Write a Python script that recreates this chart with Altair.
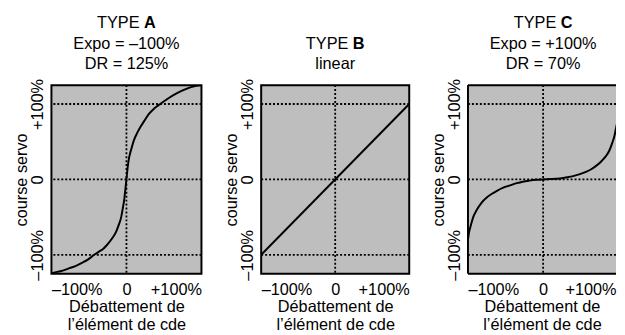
import altair as alt
import pandas as pd

# ---- data ----
A_x = [-100, -94, -85, -77, -68, -60, -51, -43, -37, -32, -26, -19, -14, -10.5, -7, -5, -3, -1.5, 0,
       1.5, 3, 5, 7, 10, 14, 19, 24, 30, 37, 45, 55, 65, 75, 85, 93, 100]
A_y = [-125, -123, -121, -118, -115, -111, -106, -100, -96, -93, -87, -78, -70, -61, -50, -39, -27, -14, 0,
       15, 26, 35, 42, 52, 61, 70, 78, 87, 94, 100, 107, 113, 118, 122, 124, 125]

B_x = [-100, 100]
B_y = [-100, 100]

C_x = [-100, -98.5, -96.5, -93, -88, -82, -75, -68, -62, -53, -44, -35, -27, -18, -9.5, 0,
       10, 22.5, 32, 40, 49, 57, 64, 70, 77, 83.5, 88, 92, 95, 97, 98.5, 100]
C_y = [-80, -70, -62, -50, -40, -31, -24, -19, -15.5, -11, -8, -5, -3, -1.6, -0.6, 0,
       0.4, 1.3, 2.8, 4.4, 7, 10, 13.5, 17.6, 23.5, 30.8, 38, 48.5, 58, 68, 75, 82]

letters = ["A", "B", "C"]
subtitles = [["Expo = –100%", "DR = 125%"], ["linear"], ["Expo = +100%", "DR = 70%"]]
grid_y = [-100, 0, 100]
grid_x = [0]
x_title = ["Débattement de", "l’élément de cde"]
y_title = "course servo"

FS = 16.5
LINE_Y = [-16.5, -37, -58]  # baselines above the plot, bottom line first
H = 191
GRAY = "#bebebe"

ysc = alt.Scale(domain=[-125, 125], nice=False, zero=False)

label_expr = "datum.value == 0 ? '0' : (datum.value > 0 ? '+100%' : '–100%')"

y_axis = alt.Axis(
    values=[-100, 0, 100], labelExpr=label_expr,
    labelAngle=270, labelAlign="center", labelBaseline="bottom",
    grid=False, ticks=False, domain=False, labelPadding=6, labelFontSize=FS,
    title=y_title, titleFontSize=FS, titleFontWeight="normal", titlePadding=0)


def panel(letter, subs, xs, ys, width, xmax, open_right=False):
    xsc = alt.Scale(domain=[-100, xmax], nice=False, zero=False)
    x_axis = alt.Axis(
        values=[-100, 0, xmax], labelExpr=label_expr, labelFlush=True, grid=False,
        ticks=False, domain=False, labelPadding=8, labelFontSize=FS,
        title=x_title, titleFontSize=FS, titleFontWeight="normal", titlePadding=1,
        titleLineHeight=18)
    df = pd.DataFrame({"x": xs, "y": ys})
    line = alt.Chart(df).mark_line(color="black", strokeWidth=2, clip=True,
                                   interpolate="monotone").encode(
        x=alt.X("x:Q", scale=xsc, axis=x_axis),
        y=alt.Y("y:Q", scale=ysc, axis=y_axis),
        order="x:Q",
    )
    hgrid = alt.Chart(pd.DataFrame({"x": grid_y})).mark_rule(
        color="black", strokeDash=[2, 2], strokeWidth=1.8).encode(
        y=alt.Y("x:Q", scale=ysc, axis=y_axis))
    vgrid = alt.Chart(pd.DataFrame({"x": grid_x})).mark_rule(
        color="black", strokeDash=[2, 2], strokeWidth=1.8).encode(
        x=alt.X("x:Q", scale=xsc, axis=x_axis))

    n = len(subs)
    one = alt.Data(values=[{}])
    cx = width * 100 / (xmax + 100)  # pixel position of x = 0
    layers = [hgrid, vgrid, line]
    layers.append(alt.Chart(one).mark_text(
        text="TYPE", align="right", baseline="alphabetic", dx=13.3, fontSize=FS,
        color="black").encode(x=alt.value(cx), y=alt.value(LINE_Y[n])))
    layers.append(alt.Chart(one).mark_text(
        text=letter, align="left", baseline="alphabetic", dx=17.9, fontSize=FS,
        fontWeight="bold", color="black").encode(x=alt.value(cx), y=alt.value(LINE_Y[n])))
    for i, s in enumerate(subs):
        layers.append(alt.Chart(one).mark_text(
            text=s, align="center", baseline="alphabetic", fontSize=FS,
            color="black").encode(x=alt.value(cx), y=alt.value(LINE_Y[n - 1 - i])))

    if open_right:
        border = dict(color="black", strokeWidth=2)
        layers.append(alt.Chart(one).mark_rule(**border).encode(
            x=alt.value(0), y=alt.value(0), y2=alt.value(H)))
        layers.append(alt.Chart(one).mark_rule(**border).encode(
            x=alt.value(0), x2=alt.value(width), y=alt.value(0)))
        layers.append(alt.Chart(one).mark_rule(**border).encode(
            x=alt.value(0), x2=alt.value(width), y=alt.value(H)))
        view = alt.ViewBackground(fill=GRAY, stroke="transparent", strokeWidth=0)
    else:
        view = alt.ViewBackground(fill=GRAY, stroke="black", strokeWidth=2)

    return alt.layer(*layers).properties(width=width, height=H, view=view)


pA = panel(letters[0], subtitles[0], A_x, A_y, 152, 100)
pB = panel(letters[1], subtitles[1], B_x, B_y, 150, 100)
pC = panel(letters[2], subtitles[2], C_x, C_y, 150, 97, open_right=True)

chart = alt.hconcat(pA, pB, pC, spacing=19.5).configure(
    font="Liberation Sans"
).configure_axis(
    labelColor="black", titleColor="black", labelFont="Liberation Sans", titleFont="Liberation Sans"
).properties(
    padding={"left": 5, "top": 4, "right": 0, "bottom": 0}
)

chart.save("out.html", embed_options={"renderer": "svg", "actions": False})
